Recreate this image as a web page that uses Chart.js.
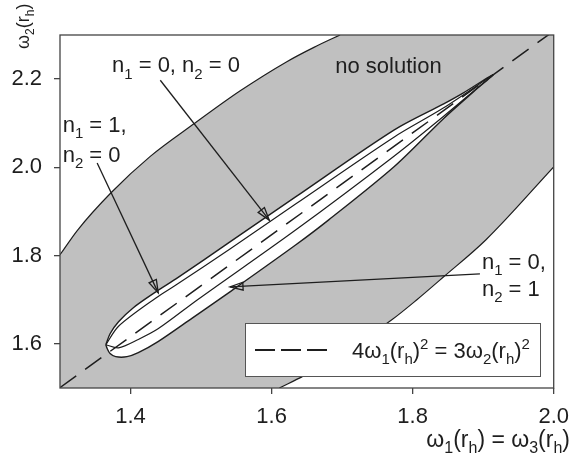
<!DOCTYPE html>
<html lang="en">
<head>
<meta charset="UTF-8">
<title>Solution regions</title>
<script src="https://cdn.jsdelivr.net/npm/chart.js"></script>
<style>
  body { margin: 0; background: #fff; }
  canvas { display: block; }
</style>
</head>
<body>
<canvas id="regionChart" width="579" height="468"></canvas>
<script>
// tick positions
const xTicks = [1.4, 1.6, 1.8, 2.0];
const yTicks = [1.6, 1.8, 2.0, 2.2];

// 4 w1^2 = 3 w2^2 reference line
const ratioX = [1.3, 2.0];
const ratioY = [1.501, 2.309];

// shaded band, upper-left edge
const upperEdgeX = [1.300, 1.325, 1.372, 1.428, 1.491, 1.555, 1.621, 1.660, 1.697];
const upperEdgeY = [1.802, 1.858, 1.942, 2.025, 2.100, 2.173, 2.239, 2.272, 2.300];

// shaded band, lower-right edge
const lowerEdgeX = [1.611, 1.646, 1.707, 1.770, 1.806, 1.844, 1.904, 2.000];
const lowerEdgeY = [1.500, 1.528, 1.587, 1.654, 1.700, 1.752, 1.836, 2.001];

// closed lens, top and bottom halves from the tip to the far end
const lensTopX = [1.365, 1.371, 1.383, 1.404, 1.436, 1.467, 1.541, 1.634, 1.774, 1.844, 1.872, 1.914];
const lensTopY = [1.598, 1.623, 1.650, 1.682, 1.718, 1.750, 1.831, 1.933, 2.085, 2.144, 2.169, 2.210];
const lensBottomX = [1.365, 1.367, 1.371, 1.379, 1.395, 1.411, 1.439, 1.488, 1.541, 1.634, 1.681, 1.774, 1.844, 1.886, 1.914];
const lensBottomY = [1.598, 1.589, 1.578, 1.571, 1.571, 1.580, 1.605, 1.659, 1.718, 1.824, 1.881, 2.002, 2.111, 2.171, 2.210];

// the two curves inside the lens
const innerUpperX = [1.365, 1.383, 1.436, 1.467, 1.541, 1.634, 1.774, 1.844, 1.914];
const innerUpperY = [1.598, 1.640, 1.704, 1.736, 1.815, 1.917, 2.069, 2.135, 2.210];
const innerLowerX = [1.365, 1.383, 1.411, 1.439, 1.495, 1.634, 1.774, 1.844, 1.914];
const innerLowerY = [1.598, 1.591, 1.610, 1.634, 1.700, 1.858, 2.026, 2.116, 2.210];

const FONT = '"Liberation Sans", Arial, sans-serif';
const INK = '#1e1e1e';
const SHADE = '#c0c0c0';

// labels and arrows, in data units
const notes = [
    { text: 'n_1 = 0, n_2 = 0', x: 1.3737, y: 2.2153 },
    { text: 'no solution',      x: 1.6903, y: 2.2136 },
    { text: 'n_1 = 1,',         x: 1.3038, y: 2.0800 },
    { text: 'n_2 = 0',          x: 1.3038, y: 2.0121 },
    { text: 'n_1 = 0,',         x: 1.8982, y: 1.7699 },
    { text: 'n_2 = 1',          x: 1.8982, y: 1.7087 }
];
const arrows = [
    { from: [1.4422, 2.1975], to: [1.5967, 1.8803] },
    { from: [1.3527, 2.0098], to: [1.4393, 1.7156] },
    { from: [1.8954, 1.7585], to: [1.5410, 1.7291] }
];

function pts(xs, ys) {
    return xs.map((x, i) => ({ x: x, y: ys[i] }));
}

// text with _x subscripts and ^x superscripts (one char each)
function richText(ctx, src, x, y, size, align) {
    const runs = [];
    for (let i = 0; i < src.length; i++) {
        const c = src[i];
        if ((c === '_' || c === '^') && i + 1 < src.length) {
            runs.push({ t: src[i + 1], k: c });
            i++;
        } else {
            runs.push({ t: c, k: '' });
        }
    }
    const small = Math.round(size * 0.68);
    const fontFor = r => (r.k ? small : size) + 'px ' + FONT;
    let w = 0;
    runs.forEach(r => { ctx.font = fontFor(r); r.w = ctx.measureText(r.t).width; w += r.w; });
    let cx = align === 'right' ? x - w : (align === 'center' ? x - w / 2 : x);
    ctx.textAlign = 'left';
    ctx.textBaseline = 'alphabetic';
    ctx.fillStyle = INK;
    runs.forEach(r => {
        ctx.font = fontFor(r);
        const dy = r.k === '_' ? size * 0.28 : (r.k === '^' ? -size * 0.42 : 0);
        ctx.fillText(r.t, cx, y + dy);
        cx += r.w;
    });
}

function drawArrow(ctx, x1, y1, x2, y2) {
    const a = Math.atan2(y2 - y1, x2 - x1);
    const len = 13, half = 4;
    const bx = x2 - len * Math.cos(a), by = y2 - len * Math.sin(a);
    const nx = -Math.sin(a) * half, ny = Math.cos(a) * half;
    ctx.beginPath();
    ctx.moveTo(x1, y1);
    ctx.lineTo(x2, y2);
    ctx.stroke();
    ctx.beginPath();
    ctx.moveTo(bx + nx, by + ny);
    ctx.lineTo(x2, y2);
    ctx.lineTo(bx - nx, by - ny);
    ctx.closePath();
    ctx.stroke();
}

const backdrop = {
    id: 'backdrop',
    beforeDraw(chart) {
        const { ctx, chartArea: a } = chart;
        ctx.save();
        ctx.fillStyle = '#fff';
        ctx.fillRect(0, 0, chart.width, chart.height);
        ctx.fillStyle = SHADE;
        ctx.fillRect(a.left, a.top, a.right - a.left, a.bottom - a.top);
        ctx.restore();
    }
};

const overlay = {
    id: 'overlay',
    afterDatasetsDraw(chart) {
        const { ctx, chartArea: a, scales } = chart;
        const px = v => scales.x.getPixelForValue(v);
        const py = v => scales.y.getPixelForValue(v);
        ctx.save();

        // frame
        ctx.strokeStyle = '#444';
        ctx.lineWidth = 1.3;
        ctx.strokeRect(a.left, a.top, a.right - a.left, a.bottom - a.top);

        // arrows
        ctx.strokeStyle = INK;
        ctx.lineWidth = 1.3;
        arrows.forEach(ar => drawArrow(ctx, px(ar.from[0]), py(ar.from[1]), px(ar.to[0]), py(ar.to[1])));

        notes.forEach(n => richText(ctx, n.text, px(n.x), py(n.y), 22, 'left'));

        // legend box
        ctx.fillStyle = '#fff';
        ctx.fillRect(245.5, 323.5, 295, 53);
        ctx.strokeStyle = '#555';
        ctx.lineWidth = 1;
        ctx.strokeRect(245.5, 323.5, 295, 53);
        ctx.strokeStyle = INK;
        ctx.lineWidth = 2;
        ctx.setLineDash([20, 6]);
        ctx.beginPath();
        ctx.moveTo(255, 350);
        ctx.lineTo(327, 350);
        ctx.stroke();
        ctx.setLineDash([]);
        richText(ctx, '4ω_1(r_h)^2 = 3ω_2(r_h)^2', 352, 358, 22, 'left');

        // axis titles
        richText(ctx, 'ω_1(r_h) = ω_3(r_h)', 570, 447, 23, 'right');
        ctx.translate(29, 49);
        ctx.rotate(-Math.PI / 2);
        richText(ctx, 'ω_2(r_h)', 0, 0, 18, 'left');
        ctx.restore();
    }
};

const lensOutline = pts(lensTopX, lensTopY).concat(pts(lensBottomX, lensBottomY).reverse().slice(1));

const ctx = document.getElementById('regionChart').getContext('2d');
new Chart(ctx, {
    type: 'line',
    data: {
        datasets: [
            {
                data: pts(ratioX, ratioY),
                borderColor: INK,
                borderWidth: 1.5,
                borderDash: [20, 11],
                fill: false
            },
            {
                data: pts(innerUpperX, innerUpperY),
                borderColor: INK,
                borderWidth: 1.2,
                tension: 0.3,
                fill: false
            },
            {
                data: pts(innerLowerX, innerLowerY),
                borderColor: INK,
                borderWidth: 1.2,
                tension: 0.3,
                fill: false
            },
            {
                data: lensOutline,
                borderColor: INK,
                borderWidth: 1.4,
                backgroundColor: '#fff',
                tension: 0.3,
                fill: 'shape'
            },
            {
                data: pts(upperEdgeX, upperEdgeY),
                borderColor: INK,
                borderWidth: 1.2,
                backgroundColor: '#fff',
                cubicInterpolationMode: 'monotone',
                fill: 'end'
            },
            {
                data: pts(lowerEdgeX, lowerEdgeY),
                borderColor: INK,
                borderWidth: 1.2,
                backgroundColor: '#fff',
                cubicInterpolationMode: 'monotone',
                fill: 'start'
            }
        ]
    },
    options: {
        responsive: false,
        animation: false,
        layout: { padding: { left: 0, right: 17, top: 35, bottom: 0 } },
        elements: { point: { radius: 0, hoverRadius: 0 } },
        plugins: { legend: { display: false }, tooltip: { enabled: false } },
        scales: {
            x: {
                type: 'linear',
                min: 1.3,
                max: 2.0,
                afterBuildTicks: s => { s.ticks = xTicks.map(v => ({ value: v })); },
                afterFit: s => { s.height = 80; },
                border: { display: false },
                grid: { drawOnChartArea: false, tickLength: 6, color: '#444', lineWidth: 1.3 },
                ticks: {
                    padding: 10,
                    maxRotation: 0,
                    color: INK,
                    font: { family: FONT, size: 22 },
                    callback: v => v.toFixed(1)
                }
            },
            y: {
                type: 'linear',
                min: 1.5,
                max: 2.3,
                afterBuildTicks: s => { s.ticks = yTicks.map(v => ({ value: v })); },
                afterFit: s => { s.width = 60; },
                border: { display: false },
                grid: { drawOnChartArea: false, tickLength: 6, color: '#444', lineWidth: 1.3 },
                ticks: {
                    padding: 12,
                    color: INK,
                    font: { family: FONT, size: 22 },
                    callback: v => v.toFixed(1)
                }
            }
        }
    },
    plugins: [backdrop, overlay]
});
</script>
</body>
</html>
